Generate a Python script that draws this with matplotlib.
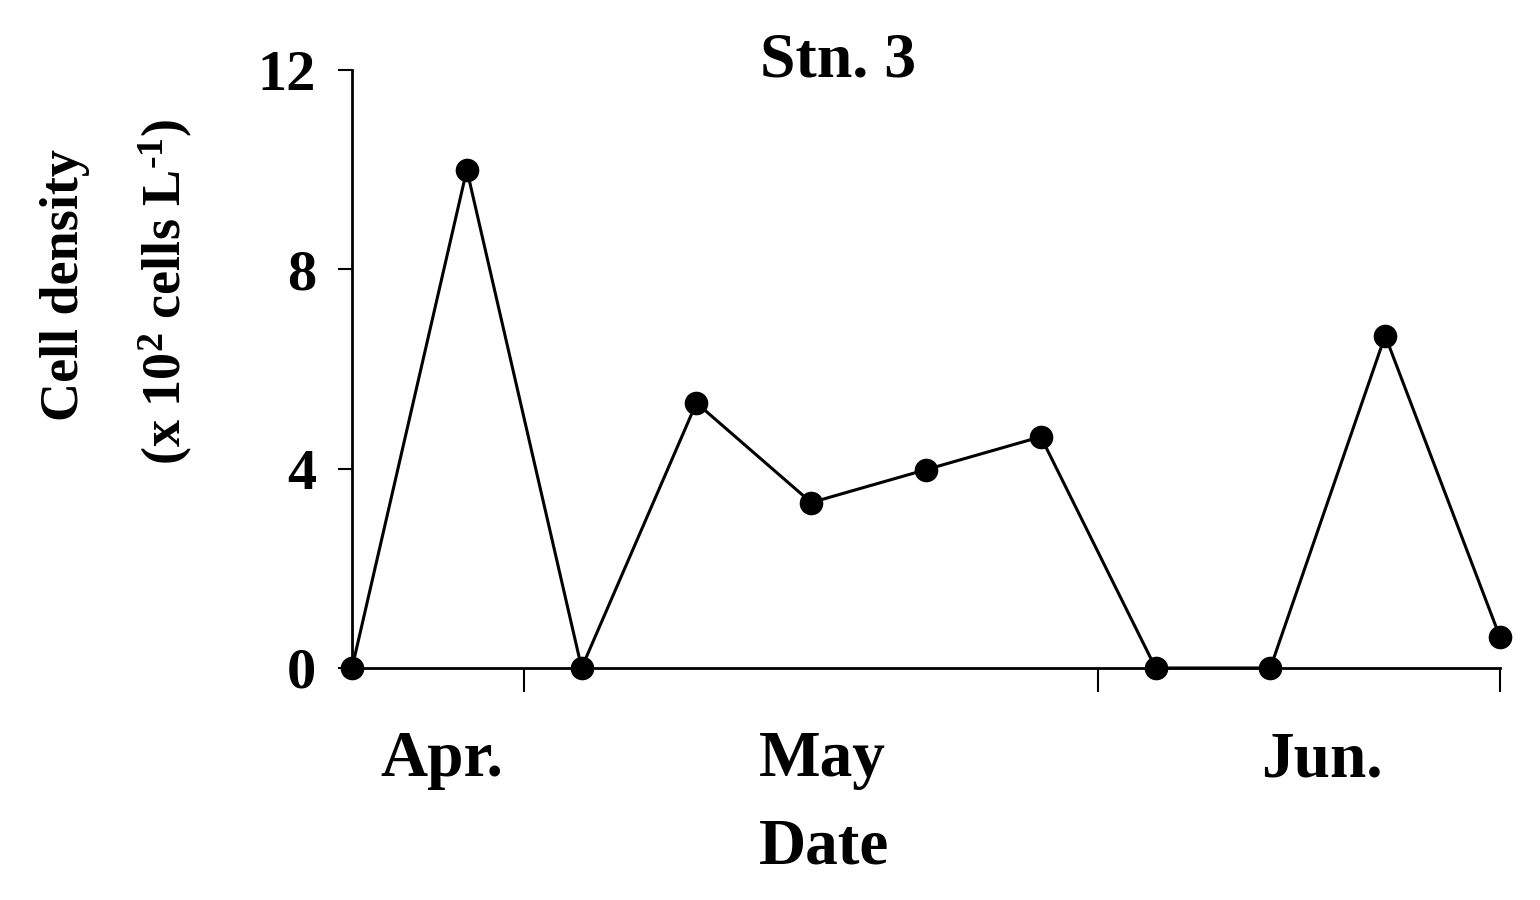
import matplotlib
matplotlib.use('Agg')
import matplotlib.pyplot as plt
import numpy as np

# sampling occasions (Apr - Jun), cell density in x10^2 cells/L
samples = list(range(11))
density = [0.0, 10.0, 0.0, 5.32, 3.32, 3.98, 4.64, 0.0, 0.0, 6.67, 0.62]
month_names = ['Apr.', 'May', 'Jun.']
month_bounds = [1.5, 6.5, 10]
month_centers = [0.78, 4.1, 8.45]
y_ticks = [0, 4, 8, 12]

plt.rcParams['font.family'] = ['Liberation Serif', 'DejaVu Serif']
plt.rcParams['font.weight'] = 'bold'
plt.rcParams['mathtext.fontset'] = 'custom'
plt.rcParams['mathtext.rm'] = 'Liberation Serif:bold'
plt.rcParams['mathtext.it'] = 'Liberation Serif:bold'
plt.rcParams['mathtext.bf'] = 'Liberation Serif:bold'

fig = plt.figure(figsize=(15.4, 9), dpi=100)
ax = fig.add_axes([0.2286, 0.2578, 0.7454, 0.6644])

ax.plot(samples, density, 'o-', color='black', linewidth=2.2, markersize=16, clip_on=False, zorder=3)

ax.set_xlim(0, 10)
ax.set_ylim(0, 12)
ax.spines['top'].set_visible(False)
ax.spines['right'].set_visible(False)
ax.spines['left'].set_linewidth(2)
ax.spines['bottom'].set_linewidth(2)

ax.set_yticks(y_ticks)
ax.set_yticklabels([str(v) for v in y_ticks], fontsize=42, fontweight='bold')
ax.tick_params(axis='y', direction='out', length=10, width=1.5, pad=16)

ax.set_xticks(month_bounds)
ax.set_xticklabels([])
ax.tick_params(axis='x', which='major', direction='out', length=17, width=1.5)
ax.set_xticks(month_centers, minor=True)
ax.set_xticklabels(month_names, minor=True, fontsize=47, fontweight='bold')
ax.tick_params(axis='x', which='minor', length=0, pad=45)

fig.text(0.535, 0.058, 'Date', ha='center', va='center', fontsize=47, fontweight='bold')
fig.text(0.544, 0.932, 'Stn. 3', ha='center', va='center', fontsize=46, fontweight='bold')
fig.text(0.042, 0.683, 'Cell density', rotation=90, ha='center', va='center', fontsize=39, fontweight='bold')
fig.text(0.108, 0.676, r'(x 10$^{\text{2}}$ cells L$^{\text{-1}}$)', rotation=90, ha='center', va='center',
         fontsize=39, fontweight='bold')

fig.savefig('out.png', dpi=100)
